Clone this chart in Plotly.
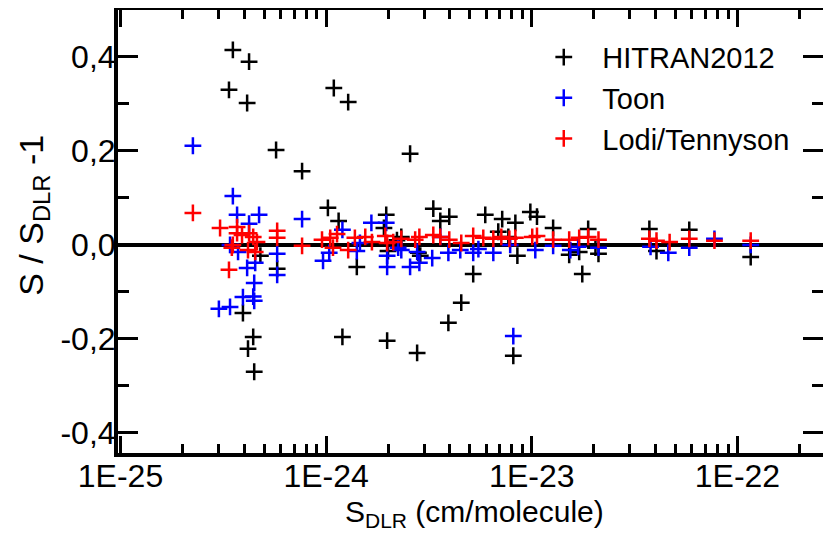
import plotly.graph_objects as go

# HITRAN2012
hitran_s = [3.52e-25, 4.22e-25, 3.37e-25, 4.13e-25, 1.09e-24, 1.28e-24, 5.71e-25, 7.64e-25,
            1.02e-24, 1.15e-24, 1.96e-24, 1.91e-24, 4.79e-25, 3.94e-25, 4.42e-25, 4.17e-25,
            4.47e-25, 5.78e-25, 1.41e-24, 1.20e-24, 1.98e-24, 2.00e-24, 2.21e-24, 3.32e-24,
            3.59e-24, 3.97e-24, 5.94e-24, 7.18e-24, 8.32e-24, 9.84e-24, 1.06e-23, 1.27e-23,
            1.88e-23, 3.73e-23, 6.87e-24, 7.69e-24, 2.32e-24, 2.81e-24, 2.87e-24, 8.51e-24,
            1.52e-23, 1.70e-23, 2.11e-23, 2.04e-23, 4.04e-23, 5.19e-24, 1.76e-23, 4.54e-24,
            3.93e-24, 2.77e-24, 8.13e-24, 2.56e-24, 5.83e-23, 1.16e-22]
hitran_r = [0.415, 0.39, 0.33, 0.302, 0.334, 0.304, 0.202, 0.157,
            0.079, 0.051, 0.064, 0.036, -0.023, -0.145, -0.196, -0.221,
            -0.27, -0.051, -0.047, -0.196, -0.204, -0.013, 0.01, 0.077,
            0.051, 0.06, 0.064, 0.055, 0.047, 0.07, 0.06, 0.036,
            0.034, 0.034, 0.028, 0.017, 0.017, -0.017, -0.023, -0.023,
            -0.021, -0.015, -0.019, -0.006, -0.013, -0.062, -0.062, -0.123,
            -0.166, -0.23, -0.236, 0.194, 0.032, -0.026]

# Toon
toon_s = [2.25e-25, 3.52e-25, 3.69e-25, 4.22e-25, 4.72e-25, 7.64e-25, 1.66e-24, 1.96e-24,
          1.20e-24, 3.41e-25, 3.73e-25, 4.13e-25, 4.52e-25, 5.78e-25, 5.78e-25, 4.47e-25,
          3.94e-25, 4.42e-25, 4.47e-25, 3.01e-25, 3.41e-25, 9.66e-25, 1.035e-24, 1.41e-24,
          1.98e-24, 1.98e-24, 1.46e-24, 2.24e-24, 2.32e-24, 2.56e-24, 2.84e-24, 2.77e-24,
          3.28e-24, 3.59e-24, 3.93e-24, 4.49e-24, 5.19e-24, 5.50e-24, 6.50e-24, 7.85e-24,
          1.04e-23, 1.27e-23, 1.54e-23, 1.68e-23, 2.11e-23, 3.78e-23, 4.61e-23, 5.83e-23,
          7.73e-23, 1.16e-22, 8.13e-24]
toon_r = [0.211, 0.104, 0.064, 0.045, 0.064, 0.055, 0.047, 0.047,
          0.032, 0.0, -0.015, -0.049, -0.038, -0.019, -0.064, -0.081,
          -0.111, -0.11, -0.119, -0.136, -0.132, -0.034, -0.017, -0.013,
          -0.023, -0.047, 0.004, -0.006, -0.011, -0.047, -0.038, -0.015,
          -0.028, 0.017, -0.017, -0.011, -0.017, -0.009, -0.017, 0.0,
          -0.011, -0.002, -0.011, -0.004, -0.006, -0.004, -0.017, -0.006,
          0.013, 0.0, -0.194]

# Lodi/Tennyson
lodi_s = [2.25e-25, 3.05e-25, 3.69e-25, 3.69e-25, 3.90e-25, 4.22e-25, 4.42e-25, 4.61e-25,
          3.52e-25, 3.48e-25, 4.17e-25, 4.52e-25, 3.37e-25, 5.78e-25, 5.78e-25, 7.64e-25,
          9.55e-25, 1.047e-24, 1.13e-24, 1.08e-24, 1.28e-24, 1.38e-24, 1.55e-24, 1.67e-24,
          1.94e-24, 1.98e-24, 2.12e-24, 2.32e-24, 2.71e-24, 2.84e-24, 3.32e-24, 3.59e-24,
          3.97e-24, 4.54e-24, 5.19e-24, 5.81e-24, 6.50e-24, 7.11e-24, 7.78e-24, 8.32e-24,
          1.005e-23, 1.06e-23, 1.27e-23, 1.52e-23, 1.70e-23, 1.88e-23, 2.11e-23, 3.73e-23,
          4.04e-23, 4.68e-23, 5.83e-23, 7.73e-23, 1.16e-22]
lodi_r = [0.068, 0.036, 0.038, 0.025, 0.021, 0.025, 0.017, 0.006,
          0.0, -0.006, -0.011, -0.015, -0.053, 0.03, 0.015, -0.002,
          0.011, 0.015, 0.023, -0.006, -0.011, 0.015, 0.017, 0.006,
          0.019, 0.004, 0.006, 0.013, 0.011, 0.017, 0.021, 0.017,
          0.011, 0.004, 0.019, 0.015, 0.013, 0.017, 0.013, 0.015,
          0.017, 0.019, 0.011, 0.011, 0.015, 0.017, 0.011, 0.013,
          0.009, 0.006, 0.013, 0.009, 0.009]

x_tickvals = [1e-25, 1e-24, 1e-23, 1e-22]
x_ticktext = ["1E-25", "1E-24", "1E-23", "1E-22"]
y_tickvals = [0.4, 0.2, 0.0, -0.2, -0.4]
y_ticktext = ["0,4", "0,2", "0,0", "-0,2", "-0,4"]
x_title = "S<sub>DLR</sub> (cm/molecule)"
y_title = "S\u00a0/\u00a0S<sub>DLR</sub>\u00a0-1"

FONT = "Liberation Sans, Arial, sans-serif"

fig = go.Figure()
for name, xs, ys, col in [("HITRAN2012", hitran_s, hitran_r, "#000000"),
                          ("Toon", toon_s, toon_r, "#0000ff"),
                          ("Lodi/Tennyson", lodi_s, lodi_r, "#ff0000")]:
    fig.add_trace(go.Scatter(
        x=xs, y=ys, mode="markers", name=name,
        marker=dict(symbol="cross-thin-open", size=12, color=col,
                    line=dict(color=col, width=2.5)),
    ))

minor_x = [m * 10.0 ** e for e in range(-26, -21) for m in range(2, 10)]

# page body has an 8px margin: the figure is sized so that the plot area
# lands at the same place as in the reference
fig.update_layout(
    width=823, height=529,
    margin=dict(l=110, r=8, t=2, b=84),
    paper_bgcolor="white", plot_bgcolor="white",
    font=dict(family=FONT, size=30, color="black"),
    showlegend=True,
    legend=dict(x=0.5777, y=0.951, xanchor="left", yanchor="top",
                bgcolor="rgba(0,0,0,0)", font=dict(size=29),
                itemwidth=67, tracegroupgap=0),
    xaxis=dict(
        type="log", range=[-25.012, -21.584], automargin=False,
        tickmode="array", tickvals=x_tickvals, ticktext=x_ticktext,
        ticks="inside", ticklen=17, tickwidth=3, tickcolor="black",
        showline=True, linewidth=4, linecolor="black", mirror="allticks",
        showgrid=False, zeroline=False,
        tickfont=dict(size=32), ticklabelstandoff=-8,
        minor=dict(tickmode="array", tickvals=minor_x, ticks="inside",
                   ticklen=9, tickwidth=3, tickcolor="black", showgrid=False),
    ),
    yaxis=dict(
        range=[-0.443, 0.5], automargin=False,
        tickmode="array", tickvals=y_tickvals, ticktext=y_ticktext,
        ticks="inside", ticklen=20, tickwidth=3, tickcolor="black",
        showline=True, linewidth=4, linecolor="black", mirror="allticks",
        showgrid=False, zeroline=True, zerolinewidth=4, zerolinecolor="black",
        tickfont=dict(size=32), ticklabelstandoff=-8,
        minor=dict(dtick=0.1, tick0=0, ticks="inside", ticklen=11, tickwidth=3,
                   tickcolor="black", showgrid=False),
    ),
    annotations=[
        dict(text=x_title, xref="paper", yref="paper", x=0.505, y=-0.1355,
             xanchor="center", yanchor="middle", showarrow=False,
             font=dict(size=30)),
        dict(text=y_title, xref="paper", yref="paper", x=-0.121, y=0.537,
             xanchor="center", yanchor="middle", showarrow=False, textangle=-90,
             font=dict(size=34)),
    ],
)

fig.write_html("out.html")
